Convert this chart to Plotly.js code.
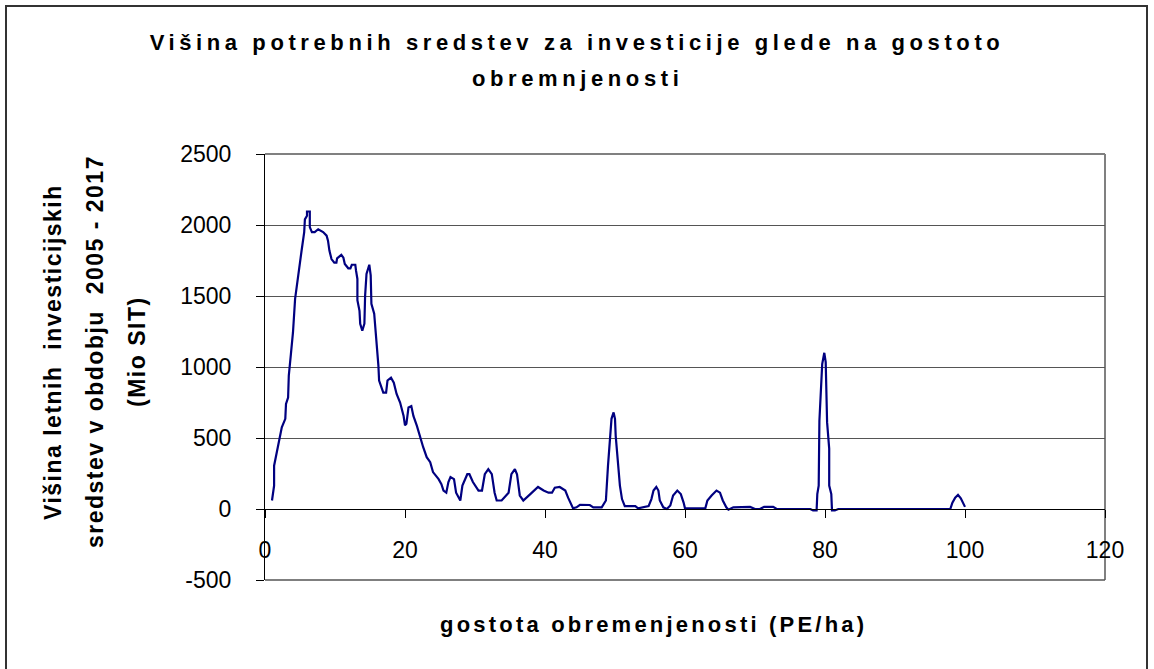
<!DOCTYPE html>
<html>
<head>
<meta charset="utf-8">
<script src="https://cdn.plot.ly/plotly-3.0.1.min.js"></script>
<style>html,body{margin:0;padding:0;background:#fff;}</style>
</head>
<body>
<div id="chart" style="width:1154px;height:669px;"></div>
<script>
// gostota obremenjenosti (PE/ha)
const density = [1, 1.3, 1.3, 1.7, 2.2, 2.4, 2.9, 3.0, 3.3, 3.4, 3.7, 4.0, 4.3, 4.8, 5.2, 5.6, 5.7, 6.0, 6.0, 6.4, 6.4, 6.7, 7.1, 7.6, 8.3, 8.8, 9.0, 9.2, 9.5, 9.9, 10.2, 10.3, 10.9, 11.2, 11.4, 11.9, 12.2, 12.4, 12.9, 13.0, 13.2, 13.2, 13.5, 13.6, 13.9, 14.2, 14.3, 14.5, 14.9, 15.1, 15.2, 15.6, 15.9, 16.0, 16.2, 16.3, 16.9, 17.3, 17.5, 18.0, 18.4, 18.8, 19.3, 19.8, 20.0, 20.2, 20.5, 20.9, 21.2, 21.7, 22.1, 22.6, 23.1, 23.6, 24.0, 24.8, 25.2, 25.5, 25.9, 26.2, 26.5, 27.0, 27.3, 27.9, 28.2, 28.9, 29.2, 29.7, 30.5, 31.0, 31.4, 31.9, 32.4, 32.8, 33.1, 33.8, 34.8, 35.2, 35.7, 36.0, 36.4, 36.9, 37.9, 39.0, 39.8, 40.5, 41.0, 41.4, 42.1, 42.9, 43.3, 43.6, 44.0, 44.5, 45.0, 46.4, 46.9, 48.1, 48.7, 49.0, 49.2, 49.4, 49.5, 49.8, 50.0, 50.1, 50.5, 50.7, 51.0, 51.4, 52.9, 53.3, 54.8, 55.2, 55.5, 55.9, 56.2, 56.4, 56.9, 57.4, 57.9, 58.3, 58.9, 59.4, 59.8, 60.0, 62.9, 63.2, 63.8, 64.5, 65.0, 65.4, 65.9, 66.2, 66.9, 69.3, 70.0, 70.7, 71.3, 72.6, 73.1, 77.9, 78.3, 78.8, 78.9, 79.1, 79.2, 79.4, 79.6, 79.9, 80.1, 80.3, 80.6, 80.6, 80.9, 81.0, 81.4, 81.9, 97.9, 98.2, 98.6, 99.0, 99.4, 100.0];

// Višina letnih investicijskih sredstev (Mio SIT)
const funds = [60, 165, 305, 400, 505, 575, 635, 740, 785, 940, 1090, 1245, 1480, 1645, 1810, 1950, 2040, 2065, 2095, 2095, 1985, 1950, 1950, 1970, 1950, 1925, 1890, 1820, 1760, 1735, 1735, 1765, 1790, 1770, 1725, 1695, 1695, 1720, 1720, 1680, 1620, 1470, 1395, 1305, 1255, 1305, 1500, 1655, 1720, 1645, 1445, 1375, 1220, 1160, 1010, 905, 820, 820, 905, 925, 890, 810, 750, 655, 590, 600, 715, 725, 655, 585, 515, 435, 365, 330, 260, 210, 175, 130, 115, 190, 225, 210, 115, 60, 165, 245, 245, 190, 130, 130, 245, 280, 245, 115, 60, 60, 115, 245, 280, 245, 95, 60, 105, 155, 130, 115, 115, 150, 155, 130, 80, 45, 5, 12, 30, 28, 12, 12, 60, 305, 445, 565, 635, 680, 635, 515, 305, 165, 70, 20, 20, 5, 20, 70, 130, 155, 130, 60, 12, 0, 25, 95, 130, 105, 45, 5, 5, 60, 95, 130, 115, 60, 12, -5, 12, 15, 0, 0, 15, 15, 0, 0, -10, -10, 105, 165, 620, 800, 1020, 1100, 1035, 610, 425, 165, 105, -10, -10, 0, 0, 45, 80, 100, 75, 15];

const xTicks = [0, 20, 40, 60, 80, 100, 120];
const yTicks = [-500, 0, 500, 1000, 1500, 2000, 2500];

const titleLine1 = 'Višina potrebnih sredstev za investicije glede na gostoto';
const titleLine2 = 'obremnjenosti';
const yTitleLines = ['Višina letnih  investicijskih', 'sredstev v obdobju  2005 - 2017', '(Mio SIT)'];
const xTitle = 'gostota obremenjenosti (PE/ha)';

const FONT = 'Liberation Sans, Arial, sans-serif';
const sp = (t, n) => '<span style="letter-spacing:' + n + 'px">' + t + '</span>';

const trace = {
  x: density, y: funds, type: 'scatter', mode: 'lines',
  line: {color: '#000080', width: 2.2},
  hoverinfo: 'x+y', showlegend: false
};

const layout = {
  width: 1154, height: 669,
  margin: {l: 265, r: 49, t: 154, b: 89},
  paper_bgcolor: '#fff', plot_bgcolor: '#fff',
  font: {family: FONT, color: '#000'},
  title: {
    text: '<b>' + sp(titleLine1, 4.6) + '</b>',
    font: {family: FONT, size: 22, color: '#000'},
    xref: 'container', x: 0.5, xanchor: 'center',
    yref: 'container', y: 1 - 42 / 669, yanchor: 'middle'
  },
  xaxis: {
    range: [0, 120], tickvals: xTicks, ticktext: xTicks.map(String),
    anchor: 'free', position: 1 / 6,
    showgrid: false, zeroline: false,
    showline: true, linecolor: '#000', linewidth: 1,
    ticks: 'outside', ticklen: 8, tickcolor: '#000', tickwidth: 1,
    ticklabelstandoff: 12,
    tickfont: {family: FONT, size: 23, color: '#000'},
    fixedrange: true
  },
  yaxis: {
    range: [-500, 2500], tickvals: yTicks, ticktext: yTicks.map(String),
    showgrid: true, gridcolor: '#555', gridwidth: 1,
    zeroline: false,
    showline: true, linecolor: '#000', linewidth: 1,
    ticks: 'outside', ticklen: 8, tickcolor: '#000', tickwidth: 1,
    ticklabelstandoff: 20,
    tickfont: {family: FONT, size: 23, color: '#000'},
    fixedrange: true
  },
  shapes: [
    // plot area border (top, right, bottom)
    {type: 'line', xref: 'paper', yref: 'paper', x0: 0, x1: 1, y0: 1, y1: 1, line: {color: '#808080', width: 2}, layer: 'below'},
    {type: 'line', xref: 'paper', yref: 'paper', x0: 1, x1: 1, y0: 0, y1: 1, line: {color: '#808080', width: 2}, layer: 'below'},
    {type: 'line', xref: 'paper', yref: 'paper', x0: 0, x1: 1, y0: 0, y1: 0, line: {color: '#555', width: 1.5}, layer: 'below'},
    // chart frame
    {type: 'rect', xref: 'paper', yref: 'paper',
     x0: (6 - 265) / 840, x1: (1147 - 265) / 840,
     y0: (580 - 720) / 426, y1: (580 - 6) / 426,
     line: {color: '#333', width: 2}, fillcolor: 'rgba(0,0,0,0)', layer: 'below'}
  ],
  annotations: [
    {text: '<b>' + sp(titleLine2, 4.6) + '</b>', xref: 'paper', yref: 'paper',
     x: (577 - 265) / 840, y: (580 - 78) / 426, xanchor: 'center', yanchor: 'middle',
     showarrow: false, font: {family: FONT, size: 22, color: '#000'}},
    {text: '<b>' + sp(xTitle, 3.2) + '</b>', xref: 'paper', yref: 'paper',
     x: (653 - 265) / 840, y: (580 - 624) / 426, xanchor: 'center', yanchor: 'middle',
     showarrow: false, font: {family: FONT, size: 22, color: '#000'}}
  ].concat(yTitleLines.map((t, i) => ({
     text: '<b>' + sp(t, 1.5) + '</b>', xref: 'paper', yref: 'paper',
     x: ([53, 95, 137][i] - 265) / 840, y: (580 - 352) / 426,
     xanchor: 'center', yanchor: 'middle', textangle: -90,
     showarrow: false, font: {family: FONT, size: 23, color: '#000'}
  })))
};

Plotly.newPlot('chart', [trace], layout, {staticPlot: true, displayModeBar: false});
</script>
</body>
</html>
